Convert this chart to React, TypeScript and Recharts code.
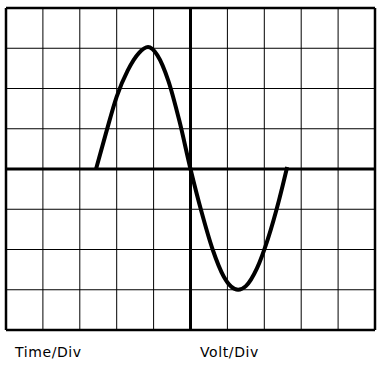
import { LineChart, Line, XAxis, YAxis, CartesianGrid, ReferenceLine } from 'recharts';

// horizontal divisions (time) and vertical divisions (volts)
const timeTicks = [-5, -4, -3, -2, -1, 0, 1, 2, 3, 4, 5];
const voltTicks = [-4, -3, -2, -1, 0, 1, 2, 3, 4];

// trace, in divisions
const traceTime = [-2.56, -2.3, -2.0, -1.7, -1.4, -1.15, -0.9, -0.6, -0.3, 0, 0.3, 0.6, 0.9, 1.1, 1.29, 1.5, 1.8, 2.1, 2.4, 2.62];
const traceVolt = [0, 0.86, 1.8, 2.45, 2.88, 3.03, 2.83, 2.19, 1.19, 0, -1.07, -2.0, -2.67, -2.92, -3.0, -2.91, -2.47, -1.73, -0.77, 0.05];

const labels = ['Time/Div', 'Volt/Div'];

const data = traceTime.map((t, i) => ({ t, v: traceVolt[i] }));

export default function App() {
  return (
    <div style={{ position: 'absolute', left: 0, top: 0, width: 385, height: 374, background: '#fff' }}>
      <LineChart width={385} height={374} data={data} margin={{ top: 8, right: 10, bottom: 44, left: 6 }}>
        <XAxis dataKey="t" type="number" domain={[-5, 5]} ticks={timeTicks} hide />
        <YAxis type="number" domain={[-4, 4]} ticks={voltTicks} hide />
        <CartesianGrid stroke="#000" strokeWidth={1} strokeOpacity={1} />
        <ReferenceLine x={-5} stroke="#000" strokeWidth={2.5} />
        <ReferenceLine x={5} stroke="#000" strokeWidth={2.5} />
        <ReferenceLine y={-4} stroke="#000" strokeWidth={2.5} />
        <ReferenceLine y={4} stroke="#000" strokeWidth={2.5} />
        <ReferenceLine x={0} stroke="#000" strokeWidth={3} />
        <ReferenceLine y={0} stroke="#000" strokeWidth={3} />
        <Line
          dataKey="v"
          type="monotone"
          stroke="#000"
          strokeWidth={4}
          dot={false}
          isAnimationActive={false}
        />
      </LineChart>
      <svg width={385} height={374} style={{ position: 'absolute', left: 0, top: 0, pointerEvents: 'none' }}>
        <text x={15} y={357} fontFamily="DejaVu Sans" fontSize={14} letterSpacing={0.6} fill="#000">{labels[0]}</text>
        <text x={200} y={357} fontFamily="DejaVu Sans" fontSize={14} letterSpacing={0.6} fill="#000">{labels[1]}</text>
      </svg>
    </div>
  );
}
